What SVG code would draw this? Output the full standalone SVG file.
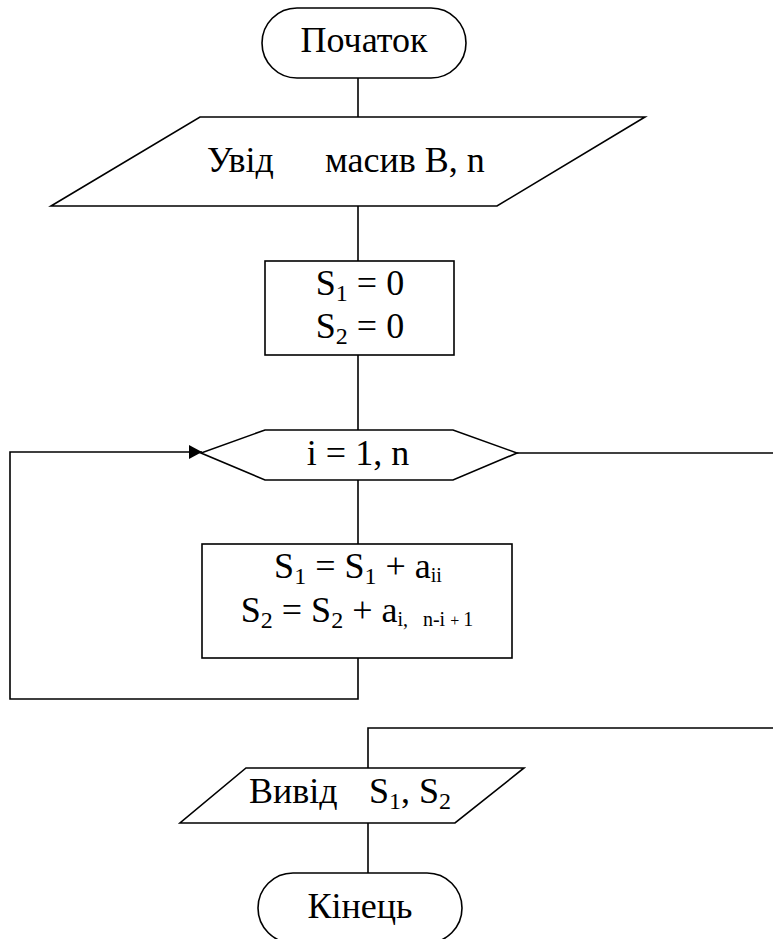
<svg xmlns="http://www.w3.org/2000/svg" width="773" height="939" viewBox="0 0 773 939">
<style>
.s{fill:#fff;stroke:#000;stroke-width:1.6}
.c{fill:none;stroke:#000;stroke-width:1.6}
text{font-family:"Liberation Serif","Times New Roman",serif;font-size:36px;fill:#000}
.m{text-anchor:middle}
.sub{font-size:24px}
.sub2{font-size:20px}
.sub3{font-size:16px}
</style>
<defs>
<marker id="arr" markerWidth="14" markerHeight="14" refX="13" refY="7" orient="auto" markerUnits="userSpaceOnUse">
<path d="M0,0 L13,7 L0,14 Z" fill="#000"/>
</marker>
</defs>
<g id="connectors">
<line class="c" x1="358" y1="78" x2="358" y2="117"/>
<line class="c" x1="358" y1="206" x2="358" y2="261"/>
<line class="c" x1="358" y1="355" x2="358" y2="430"/>
<line class="c" x1="358" y1="480" x2="358" y2="544"/>
<polyline class="c" points="358,658 358,699 10,699 10,452 202,452" marker-end="url(#arr)"/>
<line class="c" x1="517" y1="453" x2="773" y2="453"/>
<polyline class="c" points="773,728 368,728 368,768"/>
<line class="c" x1="368" y1="823" x2="368" y2="873"/>
</g>
<g id="start">
<rect class="s" x="262" y="8" width="204" height="70" rx="35" ry="35"/>
<text class="m" x="364" y="52">Початок</text>
</g>
<g id="input">
<polygon class="s" points="200,117 645,117 497,206 51,206"/>
<text x="207" y="172">Увід</text>
<text x="325" y="172">масив В, n</text>
</g>
<g id="init">
<rect class="s" x="265" y="261" width="189" height="94"/>
<text class="m" x="360" y="295">S<tspan class="sub" dy="6">1</tspan><tspan dy="-6"> = 0</tspan></text>
<text class="m" x="360" y="338">S<tspan class="sub" dy="6">2</tspan><tspan dy="-6"> = 0</tspan></text>
</g>
<g id="loop">
<polygon class="s" points="265,430 453,430 517,453 453,480 265,480 201,453"/>
<text class="m" x="358" y="465">i = 1, n</text>
</g>
<g id="body">
<rect class="s" x="202" y="544" width="310" height="114"/>
<text class="m" x="358" y="578">S<tspan class="sub" dy="6">1</tspan><tspan dy="-6"> = S</tspan><tspan class="sub" dy="6">1</tspan><tspan dy="-6"> + a</tspan><tspan class="sub2" dy="4">ii</tspan></text>
<text class="m" x="357" y="622" xml:space="preserve">S<tspan class="sub" dy="6">2</tspan><tspan dy="-6"> = S</tspan><tspan class="sub" dy="6">2</tspan><tspan dy="-6"> + a</tspan><tspan class="sub2" dy="4">i,   n-i </tspan><tspan class="sub3">+ </tspan><tspan class="sub2">1</tspan></text>
</g>
<g id="output">
<polygon class="s" points="246,768 524,768 455,823 180,823"/>
<text x="249" y="803">Вивід</text>
<text x="369" y="803">S<tspan class="sub" dy="6">1</tspan><tspan dy="-6">, S</tspan><tspan class="sub" dy="6">2</tspan></text>
</g>
<g id="end">
<rect class="s" x="258" y="873" width="204" height="70" rx="35" ry="35"/>
<text class="m" x="360" y="918">Кінець</text>
</g>
</svg>
